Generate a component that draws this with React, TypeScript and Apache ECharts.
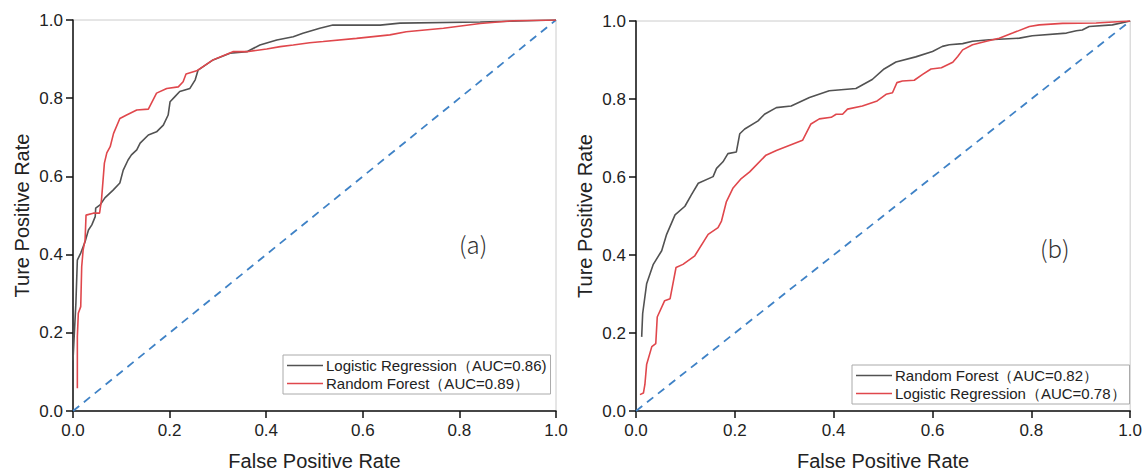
import React, { useEffect, useRef } from "react";
import * as echarts from "echarts";

// Left panel (a)
const aLrName = "Logistic Regression（AUC=0.86)";
const aLrFpr = [0, 0.002, 0.006, 0.009, 0.016, 0.025, 0.032, 0.039, 0.046, 0.047, 0.056, 0.066, 0.083, 0.097, 0.104, 0.114, 0.121, 0.132, 0.139, 0.156, 0.173, 0.187, 0.197, 0.201, 0.211, 0.221, 0.242, 0.253, 0.259, 0.29, 0.325, 0.36, 0.387, 0.422, 0.456, 0.476, 0.511, 0.538, 0.636, 0.677, 0.843, 1];
const aLrTpr = [0.13, 0.18, 0.276, 0.386, 0.404, 0.433, 0.463, 0.476, 0.497, 0.519, 0.527, 0.545, 0.565, 0.583, 0.616, 0.642, 0.655, 0.668, 0.685, 0.706, 0.714, 0.731, 0.757, 0.791, 0.804, 0.817, 0.825, 0.847, 0.872, 0.898, 0.915, 0.919, 0.936, 0.949, 0.957, 0.966, 0.979, 0.987, 0.987, 0.992, 0.995, 1];
const aRfName = "Random Forest（AUC=0.89）";
const aRfFpr = [0.009, 0.009, 0.011, 0.016, 0.018, 0.021, 0.025, 0.027, 0.042, 0.055, 0.059, 0.065, 0.07, 0.077, 0.084, 0.097, 0.111, 0.132, 0.156, 0.173, 0.194, 0.218, 0.228, 0.234, 0.256, 0.29, 0.331, 0.36, 0.401, 0.429, 0.456, 0.49, 0.518, 0.587, 0.656, 0.69, 0.767, 0.843, 0.911, 1];
const aRfTpr = [0.058, 0.19, 0.25, 0.267, 0.369, 0.412, 0.437, 0.501, 0.506, 0.506, 0.54, 0.634, 0.66, 0.676, 0.71, 0.748, 0.757, 0.77, 0.772, 0.813, 0.825, 0.829, 0.842, 0.862, 0.87, 0.898, 0.919, 0.919, 0.926, 0.932, 0.936, 0.942, 0.945, 0.953, 0.962, 0.97, 0.979, 0.991, 0.998, 1];

// Right panel (b)
const bRfName = "Random Forest（AUC=0.82）";
const bRfFpr = [0.0115, 0.0135, 0.0215, 0.035, 0.052, 0.062, 0.079, 0.099, 0.112, 0.126, 0.156, 0.163, 0.176, 0.186, 0.203, 0.21, 0.22, 0.247, 0.26, 0.284, 0.314, 0.351, 0.391, 0.445, 0.478, 0.502, 0.526, 0.566, 0.6, 0.62, 0.634, 0.661, 0.681, 0.715, 0.776, 0.802, 0.871, 0.891, 0.903, 0.917, 0.964, 1];
const bRfTpr = [0.19, 0.25, 0.326, 0.376, 0.411, 0.453, 0.503, 0.525, 0.554, 0.584, 0.601, 0.622, 0.639, 0.66, 0.664, 0.711, 0.723, 0.744, 0.761, 0.778, 0.782, 0.804, 0.821, 0.827, 0.85, 0.877, 0.895, 0.908, 0.922, 0.935, 0.939, 0.942, 0.948, 0.952, 0.956, 0.962, 0.969, 0.975, 0.977, 0.986, 0.99, 1];
const bLrName = "Logistic Regression（AUC=0.78）";
const bLrFpr = [0.008, 0.015, 0.018, 0.0215, 0.032, 0.04, 0.043, 0.058, 0.069, 0.081, 0.095, 0.119, 0.146, 0.166, 0.173, 0.183, 0.196, 0.213, 0.23, 0.263, 0.284, 0.337, 0.354, 0.371, 0.395, 0.405, 0.418, 0.428, 0.458, 0.488, 0.506, 0.519, 0.528, 0.539, 0.563, 0.58, 0.597, 0.618, 0.641, 0.651, 0.661, 0.681, 0.709, 0.735, 0.762, 0.796, 0.816, 0.863, 0.931, 1];
const bLrTpr = [0.042, 0.046, 0.068, 0.119, 0.165, 0.173, 0.241, 0.283, 0.288, 0.368, 0.376, 0.398, 0.453, 0.47, 0.487, 0.537, 0.571, 0.596, 0.613, 0.656, 0.668, 0.694, 0.736, 0.749, 0.753, 0.761, 0.761, 0.774, 0.782, 0.795, 0.812, 0.816, 0.842, 0.846, 0.848, 0.863, 0.877, 0.88, 0.894, 0.909, 0.926, 0.939, 0.948, 0.956, 0.969, 0.986, 0.99, 0.994, 0.995, 1];

const chanceX = [0, 1];
const chanceY = [0, 1];
const ticks = [0, 0.2, 0.4, 0.6, 0.8, 1.0];
const xTitle = "False Positive Rate";
const yTitle = "Ture Positive Rate";
const panelLabels = ["(a)", "(b)"];

const GRAY = "#525252";
const RED = "#e0474c";
const BLUE = "#3f82c6";
const FONT = "Liberation Sans, Arial, sans-serif";

const zip = (xs: number[], ys: number[]) => xs.map((x, i) => [x, ys[i]]);

function axisX(gridIndex: number) {
  return {
    type: "value",
    gridIndex,
    min: ticks[0],
    max: ticks[ticks.length - 1],
    interval: 0.2,
    name: xTitle,
    nameLocation: "middle",
    nameGap: 40,
    nameTextStyle: { fontSize: 20, color: "#222", fontFamily: FONT },
    axisLine: { onZero: false, lineStyle: { color: "#111", width: 1.5 } },
    axisTick: { show: true, length: 7, lineStyle: { color: "#111", width: 1.5 } },
    axisLabel: { fontSize: 17, color: "#222", margin: 11, fontFamily: FONT, formatter: (v: number) => v.toFixed(1) },
    splitLine: { show: false },
  };
}
function axisY(gridIndex: number) {
  return {
    type: "value",
    gridIndex,
    min: ticks[0],
    max: ticks[ticks.length - 1],
    interval: 0.2,
    name: yTitle,
    nameLocation: "middle",
    nameGap: 41,
    nameTextStyle: { fontSize: 20, color: "#222", fontFamily: FONT },
    axisLine: { onZero: false, lineStyle: { color: "#111", width: 1.5 } },
    axisTick: { show: true, length: 7, lineStyle: { color: "#111", width: 1.5 } },
    axisLabel: { fontSize: 17, color: "#222", margin: 10, fontFamily: FONT, formatter: (v: number) => v.toFixed(1) },
    splitLine: { show: false },
  };
}

function lineSeries(name: string, xs: number[], ys: number[], color: string, idx: number) {
  return {
    type: "line",
    name,
    xAxisIndex: idx,
    yAxisIndex: idx,
    data: zip(xs, ys),
    showSymbol: false,
    symbol: "none",
    lineStyle: { color, width: 1.6 },
    itemStyle: { color },
    z: 3,
  };
}
function chanceSeries(idx: number) {
  return {
    type: "line",
    name: "chance" + idx,
    xAxisIndex: idx,
    yAxisIndex: idx,
    data: zip(chanceX, chanceY),
    showSymbol: false,
    symbol: "none",
    lineStyle: { color: BLUE, width: 1.8, type: [8, 6] },
    z: 2,
  };
}

function legend(names: string[], left: number, top: number) {
  return {
    data: names,
    left,
    top,
    orient: "vertical",
    icon: "rect",
    itemWidth: 36,
    itemHeight: 1.6,
    itemGap: 3,
    padding: [3, 4, 3, 4],
    borderColor: "#aaaaaa",
    borderWidth: 1,
    backgroundColor: "#ffffff",
    textStyle: { fontSize: 15, color: "#222", fontFamily: FONT, padding: [0, 0, 0, -2] },
    selectedMode: false,
  };
}

export default function App() {
  const ref = useRef<HTMLDivElement>(null);
  useEffect(() => {
    if (!ref.current) return;
    const chart = echarts.init(ref.current, undefined, { renderer: "svg" });
    chart.setOption({
      animation: false,
      backgroundColor: "#ffffff",
      grid: [
        { left: 73, top: 20, width: 483, height: 391, show: true, borderColor: "#cccccc", borderWidth: 1 },
        { left: 636, top: 21, width: 495, height: 394, show: true, borderColor: "#cccccc", borderWidth: 1 },
      ],
      xAxis: [axisX(0), axisX(1)],
      yAxis: [axisY(0), axisY(1)],
      legend: [legend([aLrName, aRfName], 283, 355), legend([bRfName, bLrName], 852, 365)],
      series: [
        chanceSeries(0),
        lineSeries(aLrName, aLrFpr, aLrTpr, GRAY, 0),
        lineSeries(aRfName, aRfFpr, aRfTpr, RED, 0),
        chanceSeries(1),
        lineSeries(bRfName, bRfFpr, bRfTpr, GRAY, 1),
        lineSeries(bLrName, bLrFpr, bLrTpr, RED, 1),
      ],
      graphic: [
        { type: "text", left: 459, top: 231, style: { text: panelLabels[0], fontSize: 24, fill: "#333", fontFamily: "Noto Sans CJK SC, sans-serif", fontWeight: 300 } },
        { type: "text", left: 1040, top: 235, style: { text: panelLabels[1], fontSize: 24, fill: "#333", fontFamily: "Noto Sans CJK SC, sans-serif", fontWeight: 300 } },
      ],
    });
    return () => chart.dispose();
  }, []);
  return (
    <div
      ref={ref}
      style={{ position: "fixed", left: 0, top: 0, width: 1145, height: 476, background: "#fff" }}
    />
  );
}
